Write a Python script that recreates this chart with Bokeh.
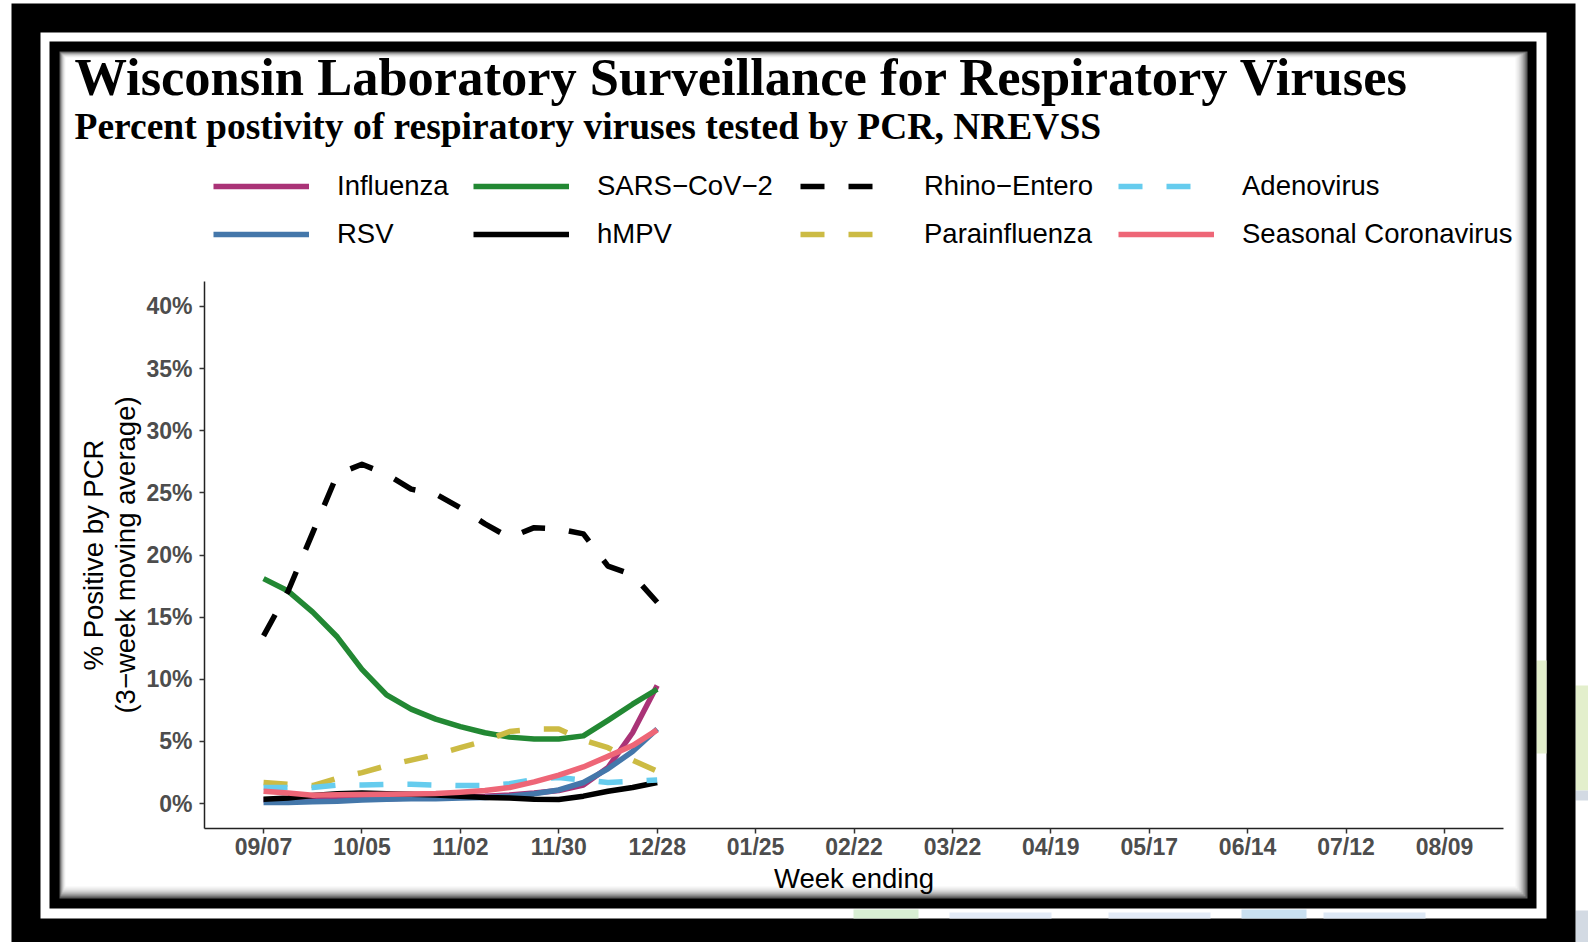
import datetime as dt
from bokeh.plotting import figure
from bokeh.models import (Range1d, FixedTicker, PrintfTickFormatter, Legend, LegendItem,
                          BoxAnnotation, Label)
from bokeh.embed import file_html
from bokeh.resources import INLINE

# ---------------- data ----------------
week_ending = ["2024-09-07", "2024-09-14", "2024-09-21", "2024-09-28", "2024-10-05",
               "2024-10-12", "2024-10-19", "2024-10-26", "2024-11-02", "2024-11-09",
               "2024-11-16", "2024-11-23", "2024-11-30", "2024-12-07", "2024-12-14",
               "2024-12-21", "2024-12-28"]
tick_weeks = ["2024-09-07", "2024-10-05", "2024-11-02", "2024-11-30", "2024-12-28",
              "2025-01-25", "2025-02-22", "2025-03-22", "2025-04-19", "2025-05-17",
              "2025-06-14", "2025-07-12", "2025-08-09"]
y_ticks = [0, 5, 10, 15, 20, 25, 30, 35, 40]

influenza = [0.3, 0.3, 0.3, 0.35, 0.4, 0.4, 0.45, 0.5, 0.55, 0.6, 0.7, 0.85, 1.05, 1.5, 2.9, 5.7, 9.5]
rsv = [0.1, 0.1, 0.15, 0.2, 0.3, 0.35, 0.4, 0.4, 0.45, 0.5, 0.6, 0.8, 1.1, 1.7, 2.8, 4.2, 6.0]
sars_cov_2 = [18.1, 17.1, 15.4, 13.4, 10.8, 8.75, 7.6, 6.8, 6.2, 5.7, 5.35, 5.2, 5.2, 5.45, 6.7, 8.0, 9.2]
hmpv = [0.35, 0.45, 0.65, 0.8, 0.85, 0.8, 0.75, 0.7, 0.6, 0.5, 0.45, 0.35, 0.33, 0.6, 1.0, 1.3, 1.7]
rhino_entero = [13.5, 17.1, 21.8, 26.5, 27.3, 26.5, 25.3, 24.9, 23.8, 22.5, 21.4, 22.2, 22.1, 21.7, 19.1, 18.4, 16.2]
parainfluenza = [1.7, 1.55, 1.45, 2.05, 2.5, 3.05, 3.5, 3.95, 4.5, 5.05, 5.8, 6.0, 6.0, 5.1, 4.5, 3.5, 2.6]
adenovirus = [1.3, 1.3, 1.3, 1.5, 1.5, 1.55, 1.55, 1.5, 1.45, 1.45, 1.6, 1.95, 2.1, 1.9, 1.7, 1.8, 1.9]
seasonal_cov = [1.0, 0.85, 0.68, 0.72, 0.73, 0.75, 0.78, 0.82, 0.92, 1.05, 1.3, 1.75, 2.3, 2.95, 3.8, 4.67, 5.93]

series_names = ["Influenza", "RSV", "SARS\u2212CoV\u22122", "hMPV", "Rhino\u2212Entero",
                "Parainfluenza", "Adenovirus", "Seasonal Coronavirus"]
series_values = [influenza, rsv, sars_cov_2, hmpv, rhino_entero, parainfluenza, adenovirus, seasonal_cov]
series_colors = ["#AA3377", "#4477AA", "#228833", "#000000", "#000000", "#CCBB44", "#66CCEE", "#EE6677"]
series_dash = ["solid", "solid", "solid", "solid", "24 24", "24 24", "24 24", "solid"]

# ---------------- scales ----------------
def parse(s):
    return dt.datetime.strptime(s, "%Y-%m-%d")

origin = parse(week_ending[0])
x_weeks = [(parse(d) - origin).days / 7 for d in week_ending]
tick_pos = [(parse(d) - origin).days / 7 for d in tick_weeks]
tick_lab = {int(t): parse(d).strftime("%m/%d") for t, d in zip(tick_pos, tick_weeks)}
span = tick_pos[-1] - tick_pos[0]
x_lo, x_hi = tick_pos[0] - 0.05 * span, tick_pos[-1] + 0.05 * span
y_lo, y_hi = -2, 42

W, H = 1588, 942
# page position of the plotting panel (axes box)
PL, PR, PT, PB = 204, 1503, 281, 828
kx = (PR - PL) / (x_hi - x_lo)
ky = (PB - PT) / (y_hi - y_lo)

p = figure(width=W, height=H, output_backend="svg", toolbar_location=None,
           x_range=Range1d(x_lo - PL / kx, x_hi + (W - PR) / kx),
           y_range=Range1d(y_lo - (H - PB) / ky, y_hi + PT / ky),
           min_border=0, min_border_left=0, min_border_right=0,
           min_border_top=0, min_border_bottom=0)
p.outline_line_color = None
p.xgrid.visible = False
p.ygrid.visible = False
p.background_fill_color = "white"
p.border_fill_color = "white"

# ---------------- decorative frame (page coords -> screen) ----------------
def sx(X):
    return X

def sy(Y):
    return H - Y

def box(x0, y0, x1, y1, color):
    b = BoxAnnotation(left=sx(x0), right=sx(x1), top=sy(y0), bottom=sy(y1),
                      left_units="screen", right_units="screen",
                      top_units="screen", bottom_units="screen",
                      fill_color=color, fill_alpha=1.0, line_color=None, level="underlay")
    p.add_layout(b)

box(1575, 685, 1600, 790, "#e3efcc")
box(1575, 790, 1600, 800, "#d3dae3")
box(1575, 910, 1600, 960, "#d3dae3")
box(11, 3, 1575, 960, "#000000")
box(40, 32, 1546, 918, "#ffffff")
box(1536, 660, 1546, 753, "#e3efcc")
box(853, 909, 918, 918, "#d8eed3")
box(949, 912, 1051, 918, "#e3ebf7")
box(1108, 912, 1210, 918, "#e3ebf7")
box(1241, 909, 1306, 918, "#c9e0f0")
box(1323, 912, 1425, 918, "#dde8f5")
box(49, 41, 1536, 908, "#000000")
shadow = ["#5c5c5c", "#8c8c8c", "#b2b2b2", "#d0d0d0", "#e6e6e6", "#f4f4f4", "#ffffff"]
for i, c in enumerate(shadow):
    box(59 + i, 51 + i, 1527 - 2 * i, 898 - 2 * i, c)

# ---------------- lines ----------------
renderers = []
for name, vals, col, dash in zip(series_names, series_values, series_colors, series_dash):
    r = p.line(x_weeks, vals, line_color=col, line_width=5.5, line_dash=dash,
               line_join="round", line_cap="butt")
    renderers.append(r)

# ---------------- axes ----------------
p.xaxis.ticker = FixedTicker(ticks=tick_pos)
p.xaxis.major_label_overrides = tick_lab
p.xaxis.fixed_location = y_lo
p.xaxis.bounds = (x_lo, x_hi)
p.yaxis.ticker = FixedTicker(ticks=y_ticks)
p.yaxis.formatter = PrintfTickFormatter(format="%d%%")
p.yaxis.fixed_location = x_lo
p.yaxis.bounds = (y_lo, y_hi)
for ax in (p.xaxis, p.yaxis):
    ax.minor_tick_line_color = None
    ax.major_tick_in = 0
    ax.major_tick_out = 5
    ax.major_tick_line_color = "#333333"
    ax.major_tick_line_width = 1.5
    ax.axis_line_color = "#222222"
    ax.axis_line_width = 1.5
    ax.major_label_text_font = "Liberation Sans"
    ax.major_label_text_font_style = "bold"
    ax.major_label_text_font_size = "23px"
    ax.major_label_text_color = "#4D4D4D"
    ax.axis_label_text_font = "Liberation Sans"
    ax.axis_label_text_font_style = "normal"
    ax.axis_label_text_font_size = "27.5px"
    ax.axis_label_text_color = "#000000"
    ax.axis_label_text_line_height = 1.05
p.xaxis.axis_label = "Week ending"
p.xaxis.major_label_standoff = 0
p.xaxis.axis_label_standoff = 0
p.yaxis.axis_label = "% Positive by PCR\n(3\u2212week moving average)"
p.yaxis.major_label_standoff = 7
p.yaxis.axis_label_standoff = 2

# ---------------- legend: 4 columns x 2 rows ----------------
col_x = [213, 473, 800, 1118]
for c in range(4):
    items = [LegendItem(label=series_names[2 * c + k], renderers=[renderers[2 * c + k]]) for k in range(2)]
    leg = Legend(items=items, location=(sx(col_x[c]), sy(249.5)), orientation="vertical",
                 border_line_color=None, background_fill_alpha=0, padding=0, margin=0,
                 spacing=16, glyph_width=96, glyph_height=30, label_height=30,
                 label_standoff=28, label_text_font="Liberation Sans",
                 label_text_font_size="27.5px", label_text_color="#000000")
    p.add_layout(leg)

# ---------------- titles ----------------
p.add_layout(Label(x=sx(74), y=sy(76), x_units="screen", y_units="screen",
                   text="Wisconsin Laboratory Surveillance for Respiratory Viruses",
                   text_font="Liberation Serif", text_font_style="bold",
                   text_font_size="52.5px", text_color="#000000", text_baseline="alphabetic"))
p.add_layout(Label(x=sx(74), y=sy(126), x_units="screen", y_units="screen",
                   text="Percent postivity of respiratory viruses tested by PCR, NREVSS",
                   text_font="Liberation Serif", text_font_style="bold",
                   text_font_size="37.5px", text_color="#000000", text_baseline="alphabetic"))

open("out.html", "w").write(file_html(p, INLINE))
